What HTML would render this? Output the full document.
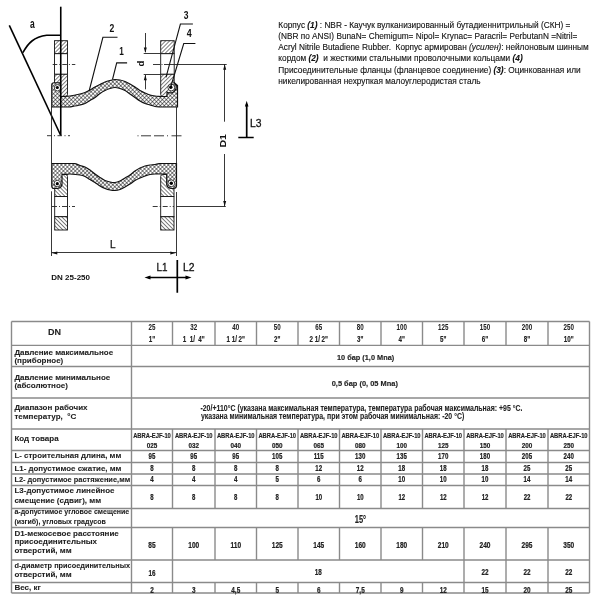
<!DOCTYPE html>
<html><head><meta charset="utf-8"><style>
html,body{margin:0;padding:0;background:#fff;width:600px;height:600px;overflow:hidden}
svg{position:absolute;left:0;top:0;will-change:transform}
text{font-family:"Liberation Sans",sans-serif}
</style></head><body>
<svg width="600" height="600" viewBox="0 0 600 600">
<defs>
<pattern id="xh" width="2.8" height="2.8" patternUnits="userSpaceOnUse" patternTransform="rotate(45)">
<rect width="2.8" height="2.8" fill="#fff"/>
<path d="M0,0H2.8M0,0V2.8" stroke="#000" stroke-width="0.95"/>
</pattern>
<pattern id="h1" width="2.8" height="2.8" patternUnits="userSpaceOnUse" patternTransform="rotate(-45)">
<rect width="2.8" height="2.8" fill="#fff"/>
<path d="M0,0H2.8" stroke="#000" stroke-width="1"/>
</pattern>
<pattern id="h2" width="2.8" height="2.8" patternUnits="userSpaceOnUse" patternTransform="rotate(45)">
<rect width="2.8" height="2.8" fill="#fff"/>
<path d="M0,0H2.8" stroke="#000" stroke-width="1"/>
</pattern>
</defs>
<g fill="none" stroke="#111" stroke-linecap="butt">
<!-- upper flanges -->
<g stroke-width="0.9">
<rect x="54.5" y="40.7" width="13" height="13" fill="url(#h1)"/>
<rect x="54.5" y="53.7" width="13" height="20.6" fill="#fff"/>
<path d="M54.5,74.3H67.5V94.5Q67.5,96.5 65.5,96.5H54.5Z" fill="url(#h1)"/>
<rect x="160.7" y="40.7" width="13.5" height="13" fill="url(#h1)"/>
<rect x="160.7" y="53.7" width="13.5" height="20.6" fill="#fff"/>
<path d="M160.7,74.3H174.2V96.5H162.7Q160.7,96.5 160.7,94.5Z" fill="url(#h1)"/>
</g>
<!-- lower flanges -->
<g stroke-width="0.9">
<path d="M54.7,196.5V174.5H65.5Q67.5,174.5 67.5,176.5V196.5Z" fill="url(#h2)"/>
<rect x="54.7" y="196.5" width="12.8" height="20.2" fill="#fff"/>
<rect x="54.7" y="216.7" width="12.8" height="13.3" fill="url(#h2)"/>
<path d="M160.7,196.5V176.5Q160.7,174.5 162.7,174.5H174V196.5Z" fill="url(#h2)"/>
<rect x="160.7" y="196.5" width="13.3" height="20.2" fill="#fff"/>
<rect x="160.7" y="216.7" width="13.3" height="13.3" fill="url(#h2)"/>
</g>
<!-- upper rubber -->
<path stroke-width="1.2" fill="url(#xh)" d="M51.75,107 V85 Q51.75,82.75 54,82.75 H60.5 V96.5 L62,96.5 C63.33,96.42 67.00,96.42 70.00,96.00 C73.00,95.58 77.50,94.58 80.00,94.00 C82.50,93.42 83.33,93.17 85.00,92.50 C86.67,91.83 88.33,90.92 90.00,90.00 C91.67,89.08 93.33,87.92 95.00,87.00 C96.67,86.08 98.33,85.33 100.00,84.50 C101.67,83.67 103.33,82.67 105.00,82.00 C106.67,81.33 108.33,80.92 110.00,80.50 C111.67,80.08 113.33,79.58 115.00,79.50 C116.67,79.42 118.33,79.67 120.00,80.00 C121.67,80.33 123.33,80.83 125.00,81.50 C126.67,82.17 128.33,83.08 130.00,84.00 C131.67,84.92 133.33,85.92 135.00,87.00 C136.67,88.08 138.33,89.50 140.00,90.50 C141.67,91.50 143.33,92.25 145.00,93.00 C146.67,93.75 148.33,94.50 150.00,95.00 C151.67,95.50 153.33,95.75 155.00,96.00 C156.67,96.25 159.17,96.42 160.00,96.50 H167 V92 A4.2,4.2 0 0 0 173.5,82 L177.5,85.5 V107 H160 C159.17,106.92 156.67,106.83 155.00,106.50 C153.33,106.17 151.67,105.50 150.00,105.00 C148.33,104.50 146.67,104.17 145.00,103.50 C143.33,102.83 141.67,102.00 140.00,101.00 C138.33,100.00 136.67,98.67 135.00,97.50 C133.33,96.33 131.67,95.17 130.00,94.00 C128.33,92.83 126.67,91.42 125.00,90.50 C123.33,89.58 121.67,89.00 120.00,88.50 C118.33,88.00 116.67,87.50 115.00,87.50 C113.33,87.50 111.67,88.00 110.00,88.50 C108.33,89.00 106.67,89.67 105.00,90.50 C103.33,91.33 101.67,92.33 100.00,93.50 C98.33,94.67 96.67,96.33 95.00,97.50 C93.33,98.67 91.67,99.50 90.00,100.50 C88.33,101.50 86.67,102.75 85.00,103.50 C83.33,104.25 82.50,104.42 80.00,105.00 C77.50,105.58 71.67,106.67 70.00,107.00 Z"/>
<!-- lower rubber -->
<path stroke-width="1.2" fill="url(#xh)" d="M51.75,163.5 H75 C75.83,163.83 78.33,164.92 80.00,165.50 C81.67,166.08 83.33,166.25 85.00,167.00 C86.67,167.75 88.33,168.83 90.00,170.00 C91.67,171.17 93.33,172.75 95.00,174.00 C96.67,175.25 98.33,176.42 100.00,177.50 C101.67,178.58 103.33,179.75 105.00,180.50 C106.67,181.25 108.33,181.67 110.00,182.00 C111.67,182.33 113.33,182.67 115.00,182.50 C116.67,182.33 118.33,181.75 120.00,181.00 C121.67,180.25 123.33,179.00 125.00,178.00 C126.67,177.00 128.33,176.17 130.00,175.00 C131.67,173.83 133.33,172.17 135.00,171.00 C136.67,169.83 138.33,168.83 140.00,168.00 C141.67,167.17 143.33,166.50 145.00,166.00 C146.67,165.50 148.33,165.25 150.00,165.00 C151.67,164.75 153.33,164.75 155.00,164.50 C156.67,164.25 159.17,163.67 160.00,163.50 H176.5 V185.5 Q176.5,188.5 173.5,188.5 H171 A4.6,4.6 0 0 1 166.7,183 V174 H160.7 C159.75,174.00 156.78,173.92 155.00,174.00 C153.22,174.08 151.67,174.17 150.00,174.50 C148.33,174.83 146.67,175.42 145.00,176.00 C143.33,176.58 141.67,177.25 140.00,178.00 C138.33,178.75 136.67,179.50 135.00,180.50 C133.33,181.50 131.67,182.92 130.00,184.00 C128.33,185.08 126.67,186.08 125.00,187.00 C123.33,187.92 121.67,188.92 120.00,189.50 C118.33,190.08 116.67,190.42 115.00,190.50 C113.33,190.58 111.67,190.33 110.00,190.00 C108.33,189.67 106.67,189.17 105.00,188.50 C103.33,187.83 101.67,187.00 100.00,186.00 C98.33,185.00 96.67,183.58 95.00,182.50 C93.33,181.42 91.67,180.50 90.00,179.50 C88.33,178.50 86.67,177.25 85.00,176.50 C83.33,175.75 82.50,175.42 80.00,175.00 C77.50,174.58 72.08,174.12 70.00,174.00 C67.92,173.88 67.92,174.25 67.50,174.30 H62 V183 A4.6,4.6 0 0 1 57.3,188.5 H54 Q51.75,188.5 51.75,186 Z"/>
<!-- beads -->
<g stroke-width="0.8" fill="#fff">
<circle cx="57.5" cy="87.8" r="3.2"/><circle cx="171.3" cy="87.5" r="3.4"/>
<circle cx="57.3" cy="183.5" r="3.2"/><circle cx="171.3" cy="183.3" r="3.4"/>
</g>
<g fill="#000" stroke="none">
<circle cx="57.3" cy="87.5" r="1.6"/><circle cx="170.8" cy="87.3" r="1.7"/>
<circle cx="57.3" cy="183.7" r="1.6"/><circle cx="171.3" cy="183.3" r="1.7"/>
</g>
<!-- thick lines: angle -->
<g stroke-width="1.6" stroke="#000">
<path d="M60.75,6.7V135.5"/>
<path d="M9.3,25.3L60.75,135.5"/>
<path d="M22.9,52.7C28,43 34,37 46.7,35.3H60.75"/>
</g>
<!-- thin extension lines -->
<g stroke-width="0.9" stroke="#222">
<path d="M51.5,107V163.5"/><path d="M176.5,107V163.5"/>
<path d="M51.5,191.3V256"/><path d="M176.5,192V256"/>
<path d="M51.5,252.5H176.5"/>
<path d="M143.7,53.5H160.7M143.7,74.5H160.7"/>
<path d="M145.5,33V52M145.5,75V89.3"/>
<path d="M174.2,64.5H226.7"/>
<path d="M224.5,64V121.7M224.5,154V206.7"/>
<path d="M176.5,206.5H225.8"/>
<path d="M153,64.5H174.2" stroke-dasharray="7 1.5 1 1.5 12"/>
<path d="M52.7,64.5H75.3" stroke-dasharray="4.6 2 1 2"/>
<path d="M47,135.7H70" stroke-dasharray="4.5 2.5 1 2.5"/>
<path d="M137.5,135.8H182" stroke-dasharray="1 2.5 10 3 10 3 1 3.5 10"/>
<path d="M52,206.5H75" stroke-dasharray="5 2 1 2"/>
<path d="M152.7,206.5H174" stroke-dasharray="5 2 1 2"/>
</g>
<!-- arrowheads -->
<g fill="#111" stroke="none">
<path d="M145.3,53L143.8,47.5H146.8Z"/>
<path d="M145.3,74.8L143.8,80.3H146.8Z"/>
<path d="M224.7,64.2L223.2,69.7H226.2Z"/>
<path d="M224.7,206.5L223.2,201H226.2Z"/>
<path d="M51.8,253L57.3,251.5V254.5Z"/>
<path d="M175.8,253L170.3,251.5V254.5Z"/>
</g>
<!-- leaders -->
<g stroke-width="1.1" stroke="#111">
<path d="M89,91.5L102.9,37.3H117.5"/>
<path d="M112.5,79.5L116.7,62.9H127.1"/>
<path d="M166,77.3L180.4,24H192.9"/>
<path d="M171,86L183.75,43.5H195.4"/>
</g>
<!-- L3 symbol -->
<g stroke="#000" stroke-width="1.7">
<path d="M246.7,104V137.5M238.3,137.5H253.7"/>
<path d="M177.3,260V292.7M148,277.5H188"/>
</g>
<g fill="#000" stroke="none">
<path d="M246.7,100.8L244.9,106.5H248.5Z"/>
<path d="M144.5,277.5L150.5,275.5V279.5Z"/>
<path d="M191.5,277.5L185.5,275.5V279.5Z"/>
</g>
</g>
<g font-family="Liberation Sans" fill="#111">
<text x="29.9" y="27.9" font-size="12.5" font-weight="bold" transform="translate(29.9 27.9) scale(0.68 1) translate(-29.9 -27.9)">a</text>
<text x="109.6" y="31.7" font-size="10.5" font-weight="bold" transform="translate(109.6 31.7) scale(0.82 1) translate(-109.6 -31.7)">2</text>
<text x="119.2" y="55.4" font-size="10" font-weight="bold" transform="translate(119.2 55.4) scale(0.82 1) translate(-119.2 -55.4)">1</text>
<text x="183.75" y="18.75" font-size="10" font-weight="bold" transform="translate(183.75 18.75) scale(0.85 1) translate(-183.75 -18.75)">3</text>
<text x="186.7" y="37.1" font-size="10.5" font-weight="bold" transform="translate(186.7 37.1) scale(0.85 1) translate(-186.7 -37.1)">4</text>
<text x="0" y="0" font-size="9.5" font-weight="bold" transform="translate(144.3 66.5) rotate(-90)">d</text>
<text x="0" y="0" font-size="9.5" font-weight="bold" textLength="13.5" lengthAdjust="spacingAndGlyphs" transform="translate(226.2 147.5) rotate(-90)">D1</text>
<text x="250" y="126.7" font-size="11.5" stroke="#111" stroke-width="0.3" transform="translate(250 0) scale(0.9 1) translate(-250 0)">L3</text>
<text x="156.5" y="271" font-size="11.5" stroke="#111" stroke-width="0.3" transform="translate(156.5 0) scale(0.86 1) translate(-156.5 0)">L1</text>
<text x="183" y="271" font-size="11.5" stroke="#111" stroke-width="0.3" transform="translate(183 0) scale(0.9 1) translate(-183 0)">L2</text>
<text x="110" y="247.5" font-size="10" stroke="#111" stroke-width="0.25">L</text>
<text x="51.25" y="280" font-size="8" font-weight="bold" textLength="38.75" lengthAdjust="spacingAndGlyphs">DN 25-250</text>
</g>
<g font-family="Liberation Sans" fill="#111" stroke="#111" stroke-width="0.12" font-size="8.9">
<text x="278.3" y="27.7" textLength="292.1" lengthAdjust="spacingAndGlyphs">Корпус <tspan font-weight="bold" font-style="italic">(1)</tspan> : NBR - Каучук вулканизированный бутадиеннитрильный (СКН) =</text>
<text x="278.3" y="38.7" textLength="299" lengthAdjust="spacingAndGlyphs">(NBR по ANSI) BunaN= Chemigum= Nipol= Krynac= Paracril= PerbutanN =Nitril=</text>
<text x="278.3" y="50" textLength="310.4" lengthAdjust="spacingAndGlyphs">Acryl Nitrile Butadiene Rubber.&#160; Корпус армирован <tspan font-style="italic">(усилен)</tspan>: нейлоновым шинным</text>
<text x="278.3" y="61.3" textLength="244.4" lengthAdjust="spacingAndGlyphs">кордом <tspan font-weight="bold" font-style="italic">(2)</tspan>&#160; и жесткими стальными проволочными кольцами <tspan font-weight="bold" font-style="italic">(4)</tspan></text>
<text x="278.3" y="72.7" textLength="302.4" lengthAdjust="spacingAndGlyphs">Присоединительные фланцы (фланцевое соединение) <tspan font-weight="bold" font-style="italic">(3)</tspan>: Оцинкованная или</text>
<text x="278.3" y="84" textLength="202.4" lengthAdjust="spacingAndGlyphs">никелированная нехрупкая малоуглеродистая сталь</text>
</g>

<g>
<line x1="11.5" y1="321.5" x2="589.5" y2="321.5" stroke="#8a8a8a" stroke-width="1.4"/><line x1="11.5" y1="345.4" x2="589.5" y2="345.4" stroke="#8a8a8a" stroke-width="1.4"/><line x1="11.5" y1="366.5" x2="589.5" y2="366.5" stroke="#8a8a8a" stroke-width="1.4"/><line x1="11.5" y1="398" x2="589.5" y2="398" stroke="#8a8a8a" stroke-width="1.4"/><line x1="11.5" y1="429" x2="589.5" y2="429" stroke="#8a8a8a" stroke-width="1.4"/><line x1="11.5" y1="450.5" x2="589.5" y2="450.5" stroke="#8a8a8a" stroke-width="1.4"/><line x1="11.5" y1="462.5" x2="589.5" y2="462.5" stroke="#8a8a8a" stroke-width="1.4"/><line x1="11.5" y1="474" x2="589.5" y2="474" stroke="#8a8a8a" stroke-width="1.4"/><line x1="11.5" y1="485.5" x2="589.5" y2="485.5" stroke="#8a8a8a" stroke-width="1.4"/><line x1="11.5" y1="508.5" x2="589.5" y2="508.5" stroke="#8a8a8a" stroke-width="1.4"/><line x1="11.5" y1="527.5" x2="589.5" y2="527.5" stroke="#8a8a8a" stroke-width="1.4"/><line x1="11.5" y1="560" x2="589.5" y2="560" stroke="#8a8a8a" stroke-width="1.4"/><line x1="11.5" y1="582.5" x2="589.5" y2="582.5" stroke="#8a8a8a" stroke-width="1.4"/><line x1="11.5" y1="593" x2="589.5" y2="593" stroke="#8a8a8a" stroke-width="1.4"/><line x1="11.5" y1="321.5" x2="11.5" y2="593" stroke="#8a8a8a" stroke-width="1.4"/><line x1="589.5" y1="321.5" x2="589.5" y2="593" stroke="#8a8a8a" stroke-width="1.4"/><line x1="131.5" y1="321.5" x2="131.5" y2="593" stroke="#8a8a8a" stroke-width="1.4"/><line x1="172.5" y1="321.5" x2="172.5" y2="345.4" stroke="#8a8a8a" stroke-width="1.4"/><line x1="215" y1="321.5" x2="215" y2="345.4" stroke="#8a8a8a" stroke-width="1.4"/><line x1="256.5" y1="321.5" x2="256.5" y2="345.4" stroke="#8a8a8a" stroke-width="1.4"/><line x1="298" y1="321.5" x2="298" y2="345.4" stroke="#8a8a8a" stroke-width="1.4"/><line x1="339.5" y1="321.5" x2="339.5" y2="345.4" stroke="#8a8a8a" stroke-width="1.4"/><line x1="381" y1="321.5" x2="381" y2="345.4" stroke="#8a8a8a" stroke-width="1.4"/><line x1="422.5" y1="321.5" x2="422.5" y2="345.4" stroke="#8a8a8a" stroke-width="1.4"/><line x1="464" y1="321.5" x2="464" y2="345.4" stroke="#8a8a8a" stroke-width="1.4"/><line x1="506" y1="321.5" x2="506" y2="345.4" stroke="#8a8a8a" stroke-width="1.4"/><line x1="548" y1="321.5" x2="548" y2="345.4" stroke="#8a8a8a" stroke-width="1.4"/><line x1="172.5" y1="429" x2="172.5" y2="450.5" stroke="#8a8a8a" stroke-width="1.4"/><line x1="215" y1="429" x2="215" y2="450.5" stroke="#8a8a8a" stroke-width="1.4"/><line x1="256.5" y1="429" x2="256.5" y2="450.5" stroke="#8a8a8a" stroke-width="1.4"/><line x1="298" y1="429" x2="298" y2="450.5" stroke="#8a8a8a" stroke-width="1.4"/><line x1="339.5" y1="429" x2="339.5" y2="450.5" stroke="#8a8a8a" stroke-width="1.4"/><line x1="381" y1="429" x2="381" y2="450.5" stroke="#8a8a8a" stroke-width="1.4"/><line x1="422.5" y1="429" x2="422.5" y2="450.5" stroke="#8a8a8a" stroke-width="1.4"/><line x1="464" y1="429" x2="464" y2="450.5" stroke="#8a8a8a" stroke-width="1.4"/><line x1="506" y1="429" x2="506" y2="450.5" stroke="#8a8a8a" stroke-width="1.4"/><line x1="548" y1="429" x2="548" y2="450.5" stroke="#8a8a8a" stroke-width="1.4"/><line x1="172.5" y1="450.5" x2="172.5" y2="462.5" stroke="#8a8a8a" stroke-width="1.4"/><line x1="215" y1="450.5" x2="215" y2="462.5" stroke="#8a8a8a" stroke-width="1.4"/><line x1="256.5" y1="450.5" x2="256.5" y2="462.5" stroke="#8a8a8a" stroke-width="1.4"/><line x1="298" y1="450.5" x2="298" y2="462.5" stroke="#8a8a8a" stroke-width="1.4"/><line x1="339.5" y1="450.5" x2="339.5" y2="462.5" stroke="#8a8a8a" stroke-width="1.4"/><line x1="381" y1="450.5" x2="381" y2="462.5" stroke="#8a8a8a" stroke-width="1.4"/><line x1="422.5" y1="450.5" x2="422.5" y2="462.5" stroke="#8a8a8a" stroke-width="1.4"/><line x1="464" y1="450.5" x2="464" y2="462.5" stroke="#8a8a8a" stroke-width="1.4"/><line x1="506" y1="450.5" x2="506" y2="462.5" stroke="#8a8a8a" stroke-width="1.4"/><line x1="548" y1="450.5" x2="548" y2="462.5" stroke="#8a8a8a" stroke-width="1.4"/><line x1="172.5" y1="462.5" x2="172.5" y2="474" stroke="#8a8a8a" stroke-width="1.4"/><line x1="215" y1="462.5" x2="215" y2="474" stroke="#8a8a8a" stroke-width="1.4"/><line x1="256.5" y1="462.5" x2="256.5" y2="474" stroke="#8a8a8a" stroke-width="1.4"/><line x1="298" y1="462.5" x2="298" y2="474" stroke="#8a8a8a" stroke-width="1.4"/><line x1="339.5" y1="462.5" x2="339.5" y2="474" stroke="#8a8a8a" stroke-width="1.4"/><line x1="381" y1="462.5" x2="381" y2="474" stroke="#8a8a8a" stroke-width="1.4"/><line x1="422.5" y1="462.5" x2="422.5" y2="474" stroke="#8a8a8a" stroke-width="1.4"/><line x1="464" y1="462.5" x2="464" y2="474" stroke="#8a8a8a" stroke-width="1.4"/><line x1="506" y1="462.5" x2="506" y2="474" stroke="#8a8a8a" stroke-width="1.4"/><line x1="548" y1="462.5" x2="548" y2="474" stroke="#8a8a8a" stroke-width="1.4"/><line x1="172.5" y1="474" x2="172.5" y2="485.5" stroke="#8a8a8a" stroke-width="1.4"/><line x1="215" y1="474" x2="215" y2="485.5" stroke="#8a8a8a" stroke-width="1.4"/><line x1="256.5" y1="474" x2="256.5" y2="485.5" stroke="#8a8a8a" stroke-width="1.4"/><line x1="298" y1="474" x2="298" y2="485.5" stroke="#8a8a8a" stroke-width="1.4"/><line x1="339.5" y1="474" x2="339.5" y2="485.5" stroke="#8a8a8a" stroke-width="1.4"/><line x1="381" y1="474" x2="381" y2="485.5" stroke="#8a8a8a" stroke-width="1.4"/><line x1="422.5" y1="474" x2="422.5" y2="485.5" stroke="#8a8a8a" stroke-width="1.4"/><line x1="464" y1="474" x2="464" y2="485.5" stroke="#8a8a8a" stroke-width="1.4"/><line x1="506" y1="474" x2="506" y2="485.5" stroke="#8a8a8a" stroke-width="1.4"/><line x1="548" y1="474" x2="548" y2="485.5" stroke="#8a8a8a" stroke-width="1.4"/><line x1="172.5" y1="485.5" x2="172.5" y2="508.5" stroke="#8a8a8a" stroke-width="1.4"/><line x1="215" y1="485.5" x2="215" y2="508.5" stroke="#8a8a8a" stroke-width="1.4"/><line x1="256.5" y1="485.5" x2="256.5" y2="508.5" stroke="#8a8a8a" stroke-width="1.4"/><line x1="298" y1="485.5" x2="298" y2="508.5" stroke="#8a8a8a" stroke-width="1.4"/><line x1="339.5" y1="485.5" x2="339.5" y2="508.5" stroke="#8a8a8a" stroke-width="1.4"/><line x1="381" y1="485.5" x2="381" y2="508.5" stroke="#8a8a8a" stroke-width="1.4"/><line x1="422.5" y1="485.5" x2="422.5" y2="508.5" stroke="#8a8a8a" stroke-width="1.4"/><line x1="464" y1="485.5" x2="464" y2="508.5" stroke="#8a8a8a" stroke-width="1.4"/><line x1="506" y1="485.5" x2="506" y2="508.5" stroke="#8a8a8a" stroke-width="1.4"/><line x1="548" y1="485.5" x2="548" y2="508.5" stroke="#8a8a8a" stroke-width="1.4"/><line x1="172.5" y1="527.5" x2="172.5" y2="560" stroke="#8a8a8a" stroke-width="1.4"/><line x1="215" y1="527.5" x2="215" y2="560" stroke="#8a8a8a" stroke-width="1.4"/><line x1="256.5" y1="527.5" x2="256.5" y2="560" stroke="#8a8a8a" stroke-width="1.4"/><line x1="298" y1="527.5" x2="298" y2="560" stroke="#8a8a8a" stroke-width="1.4"/><line x1="339.5" y1="527.5" x2="339.5" y2="560" stroke="#8a8a8a" stroke-width="1.4"/><line x1="381" y1="527.5" x2="381" y2="560" stroke="#8a8a8a" stroke-width="1.4"/><line x1="422.5" y1="527.5" x2="422.5" y2="560" stroke="#8a8a8a" stroke-width="1.4"/><line x1="464" y1="527.5" x2="464" y2="560" stroke="#8a8a8a" stroke-width="1.4"/><line x1="506" y1="527.5" x2="506" y2="560" stroke="#8a8a8a" stroke-width="1.4"/><line x1="548" y1="527.5" x2="548" y2="560" stroke="#8a8a8a" stroke-width="1.4"/><line x1="172.5" y1="560" x2="172.5" y2="582.5" stroke="#8a8a8a" stroke-width="1.4"/><line x1="464" y1="560" x2="464" y2="582.5" stroke="#8a8a8a" stroke-width="1.4"/><line x1="506" y1="560" x2="506" y2="582.5" stroke="#8a8a8a" stroke-width="1.4"/><line x1="548" y1="560" x2="548" y2="582.5" stroke="#8a8a8a" stroke-width="1.4"/><line x1="172.5" y1="582.5" x2="172.5" y2="593" stroke="#8a8a8a" stroke-width="1.4"/><line x1="215" y1="582.5" x2="215" y2="593" stroke="#8a8a8a" stroke-width="1.4"/><line x1="256.5" y1="582.5" x2="256.5" y2="593" stroke="#8a8a8a" stroke-width="1.4"/><line x1="298" y1="582.5" x2="298" y2="593" stroke="#8a8a8a" stroke-width="1.4"/><line x1="339.5" y1="582.5" x2="339.5" y2="593" stroke="#8a8a8a" stroke-width="1.4"/><line x1="381" y1="582.5" x2="381" y2="593" stroke="#8a8a8a" stroke-width="1.4"/><line x1="422.5" y1="582.5" x2="422.5" y2="593" stroke="#8a8a8a" stroke-width="1.4"/><line x1="464" y1="582.5" x2="464" y2="593" stroke="#8a8a8a" stroke-width="1.4"/><line x1="506" y1="582.5" x2="506" y2="593" stroke="#8a8a8a" stroke-width="1.4"/><line x1="548" y1="582.5" x2="548" y2="593" stroke="#8a8a8a" stroke-width="1.4"/>
</g>
<text x="48" y="335.4" font-size="9" font-weight="bold" text-anchor="start" fill="#222" stroke="#222" stroke-width="0.08">DN</text><text x="152.0" y="330" font-size="8.2" font-weight="bold" text-anchor="middle" fill="#222" stroke="#222" stroke-width="0.05" transform="translate(152.0 330) scale(0.76 1) translate(-152.0 -330)">25</text><text x="152.0" y="341.6" font-size="8.2" font-weight="bold" text-anchor="middle" fill="#222" stroke="#222" stroke-width="0.15" transform="translate(152.0 341.6) scale(0.76 1) translate(-152.0 -341.6)">1"</text><text x="193.75" y="330" font-size="8.2" font-weight="bold" text-anchor="middle" fill="#222" stroke="#222" stroke-width="0.05" transform="translate(193.75 330) scale(0.76 1) translate(-193.75 -330)">32</text><text x="193.75" y="341.6" font-size="8.2" font-weight="bold" text-anchor="middle" fill="#222" stroke="#222" stroke-width="0.15" transform="translate(193.75 341.6) scale(0.76 1) translate(-193.75 -341.6)">1&#160;&#160;1/&#160;&#160;4"</text><text x="235.75" y="330" font-size="8.2" font-weight="bold" text-anchor="middle" fill="#222" stroke="#222" stroke-width="0.05" transform="translate(235.75 330) scale(0.76 1) translate(-235.75 -330)">40</text><text x="235.75" y="341.6" font-size="8.2" font-weight="bold" text-anchor="middle" fill="#222" stroke="#222" stroke-width="0.15" transform="translate(235.75 341.6) scale(0.76 1) translate(-235.75 -341.6)">1 1/ 2"</text><text x="277.25" y="330" font-size="8.2" font-weight="bold" text-anchor="middle" fill="#222" stroke="#222" stroke-width="0.05" transform="translate(277.25 330) scale(0.76 1) translate(-277.25 -330)">50</text><text x="277.25" y="341.6" font-size="8.2" font-weight="bold" text-anchor="middle" fill="#222" stroke="#222" stroke-width="0.15" transform="translate(277.25 341.6) scale(0.76 1) translate(-277.25 -341.6)">2"</text><text x="318.75" y="330" font-size="8.2" font-weight="bold" text-anchor="middle" fill="#222" stroke="#222" stroke-width="0.05" transform="translate(318.75 330) scale(0.76 1) translate(-318.75 -330)">65</text><text x="318.75" y="341.6" font-size="8.2" font-weight="bold" text-anchor="middle" fill="#222" stroke="#222" stroke-width="0.15" transform="translate(318.75 341.6) scale(0.76 1) translate(-318.75 -341.6)">2 1/ 2"</text><text x="360.25" y="330" font-size="8.2" font-weight="bold" text-anchor="middle" fill="#222" stroke="#222" stroke-width="0.05" transform="translate(360.25 330) scale(0.76 1) translate(-360.25 -330)">80</text><text x="360.25" y="341.6" font-size="8.2" font-weight="bold" text-anchor="middle" fill="#222" stroke="#222" stroke-width="0.15" transform="translate(360.25 341.6) scale(0.76 1) translate(-360.25 -341.6)">3"</text><text x="401.75" y="330" font-size="8.2" font-weight="bold" text-anchor="middle" fill="#222" stroke="#222" stroke-width="0.05" transform="translate(401.75 330) scale(0.76 1) translate(-401.75 -330)">100</text><text x="401.75" y="341.6" font-size="8.2" font-weight="bold" text-anchor="middle" fill="#222" stroke="#222" stroke-width="0.15" transform="translate(401.75 341.6) scale(0.76 1) translate(-401.75 -341.6)">4"</text><text x="443.25" y="330" font-size="8.2" font-weight="bold" text-anchor="middle" fill="#222" stroke="#222" stroke-width="0.05" transform="translate(443.25 330) scale(0.76 1) translate(-443.25 -330)">125</text><text x="443.25" y="341.6" font-size="8.2" font-weight="bold" text-anchor="middle" fill="#222" stroke="#222" stroke-width="0.15" transform="translate(443.25 341.6) scale(0.76 1) translate(-443.25 -341.6)">5"</text><text x="485.0" y="330" font-size="8.2" font-weight="bold" text-anchor="middle" fill="#222" stroke="#222" stroke-width="0.05" transform="translate(485.0 330) scale(0.76 1) translate(-485.0 -330)">150</text><text x="485.0" y="341.6" font-size="8.2" font-weight="bold" text-anchor="middle" fill="#222" stroke="#222" stroke-width="0.15" transform="translate(485.0 341.6) scale(0.76 1) translate(-485.0 -341.6)">6"</text><text x="527.0" y="330" font-size="8.2" font-weight="bold" text-anchor="middle" fill="#222" stroke="#222" stroke-width="0.05" transform="translate(527.0 330) scale(0.76 1) translate(-527.0 -330)">200</text><text x="527.0" y="341.6" font-size="8.2" font-weight="bold" text-anchor="middle" fill="#222" stroke="#222" stroke-width="0.15" transform="translate(527.0 341.6) scale(0.76 1) translate(-527.0 -341.6)">8"</text><text x="568.75" y="330" font-size="8.2" font-weight="bold" text-anchor="middle" fill="#222" stroke="#222" stroke-width="0.05" transform="translate(568.75 330) scale(0.76 1) translate(-568.75 -330)">250</text><text x="568.75" y="341.6" font-size="8.2" font-weight="bold" text-anchor="middle" fill="#222" stroke="#222" stroke-width="0.15" transform="translate(568.75 341.6) scale(0.76 1) translate(-568.75 -341.6)">10"</text><text x="14.4" y="355" font-size="8" font-weight="bold" text-anchor="start" fill="#222" stroke="#222" stroke-width="0.08">Давление максимальное</text><text x="14.4" y="363" font-size="8" font-weight="bold" text-anchor="start" fill="#222" stroke="#222" stroke-width="0.08">(приборное)</text><text x="365.6" y="359.6" font-size="8" font-weight="bold" text-anchor="middle" fill="#222" stroke="#222" stroke-width="0.15" transform="translate(365.6 359.6) scale(0.92 1) translate(-365.6 -359.6)">10 бар (1,0 Mna)</text><text x="14.4" y="380" font-size="8" font-weight="bold" text-anchor="start" fill="#222" stroke="#222" stroke-width="0.08">Давление минимальное</text><text x="14.4" y="387.6" font-size="8" font-weight="bold" text-anchor="start" fill="#222" stroke="#222" stroke-width="0.08">(абсолютное)</text><text x="364.8" y="385.7" font-size="8" font-weight="bold" text-anchor="middle" fill="#222" stroke="#222" stroke-width="0.15" transform="translate(364.8 385.7) scale(0.93 1) translate(-364.8 -385.7)">0,5 бар (0, 05 Mna)</text><text x="14.4" y="409.8" font-size="8" font-weight="bold" text-anchor="start" fill="#222" stroke="#222" stroke-width="0.08">Диапазон рабочих</text><text x="14.4" y="418.5" font-size="8" font-weight="bold" text-anchor="start" fill="#222" stroke="#222" stroke-width="0.08">температур,&#160;&#160;°С</text><text x="200.4" y="411" font-size="8.2" font-weight="bold" text-anchor="start" fill="#222" stroke="#222" stroke-width="0.08" transform="translate(200.4 411) scale(0.85 1) translate(-200.4 -411)">-20/+110°C (указана максимальная температура, температура рабочая максимальная: +95 °С.</text><text x="201" y="419.4" font-size="8.2" font-weight="bold" text-anchor="start" fill="#222" stroke="#222" stroke-width="0.08" transform="translate(201 419.4) scale(0.85 1) translate(-201 -419.4)">указана минимальная температура, при этом рабочая минимальная: -20 °С)</text><text x="14.4" y="441.4" font-size="8" font-weight="bold" text-anchor="start" fill="#222" stroke="#222" stroke-width="0.08">Код товара</text><text x="152.0" y="438.2" font-size="7" font-weight="bold" text-anchor="middle" fill="#222" stroke="#222" stroke-width="0.15" transform="translate(152.0 438.2) scale(0.83 1) translate(-152.0 -438.2)">ABRA-EJF-10</text><text x="152.0" y="448.1" font-size="8.1" font-weight="bold" text-anchor="middle" fill="#222" stroke="#222" stroke-width="0.22" transform="translate(152.0 448.1) scale(0.78 1) translate(-152.0 -448.1)">025</text><text x="193.75" y="438.2" font-size="7" font-weight="bold" text-anchor="middle" fill="#222" stroke="#222" stroke-width="0.15" transform="translate(193.75 438.2) scale(0.83 1) translate(-193.75 -438.2)">ABRA-EJF-10</text><text x="193.75" y="448.1" font-size="8.1" font-weight="bold" text-anchor="middle" fill="#222" stroke="#222" stroke-width="0.22" transform="translate(193.75 448.1) scale(0.78 1) translate(-193.75 -448.1)">032</text><text x="235.75" y="438.2" font-size="7" font-weight="bold" text-anchor="middle" fill="#222" stroke="#222" stroke-width="0.15" transform="translate(235.75 438.2) scale(0.83 1) translate(-235.75 -438.2)">ABRA-EJF-10</text><text x="235.75" y="448.1" font-size="8.1" font-weight="bold" text-anchor="middle" fill="#222" stroke="#222" stroke-width="0.22" transform="translate(235.75 448.1) scale(0.78 1) translate(-235.75 -448.1)">040</text><text x="277.25" y="438.2" font-size="7" font-weight="bold" text-anchor="middle" fill="#222" stroke="#222" stroke-width="0.15" transform="translate(277.25 438.2) scale(0.83 1) translate(-277.25 -438.2)">ABRA-EJF-10</text><text x="277.25" y="448.1" font-size="8.1" font-weight="bold" text-anchor="middle" fill="#222" stroke="#222" stroke-width="0.22" transform="translate(277.25 448.1) scale(0.78 1) translate(-277.25 -448.1)">050</text><text x="318.75" y="438.2" font-size="7" font-weight="bold" text-anchor="middle" fill="#222" stroke="#222" stroke-width="0.15" transform="translate(318.75 438.2) scale(0.83 1) translate(-318.75 -438.2)">ABRA-EJF-10</text><text x="318.75" y="448.1" font-size="8.1" font-weight="bold" text-anchor="middle" fill="#222" stroke="#222" stroke-width="0.22" transform="translate(318.75 448.1) scale(0.78 1) translate(-318.75 -448.1)">065</text><text x="360.25" y="438.2" font-size="7" font-weight="bold" text-anchor="middle" fill="#222" stroke="#222" stroke-width="0.15" transform="translate(360.25 438.2) scale(0.83 1) translate(-360.25 -438.2)">ABRA-EJF-10</text><text x="360.25" y="448.1" font-size="8.1" font-weight="bold" text-anchor="middle" fill="#222" stroke="#222" stroke-width="0.22" transform="translate(360.25 448.1) scale(0.78 1) translate(-360.25 -448.1)">080</text><text x="401.75" y="438.2" font-size="7" font-weight="bold" text-anchor="middle" fill="#222" stroke="#222" stroke-width="0.15" transform="translate(401.75 438.2) scale(0.83 1) translate(-401.75 -438.2)">ABRA-EJF-10</text><text x="401.75" y="448.1" font-size="8.1" font-weight="bold" text-anchor="middle" fill="#222" stroke="#222" stroke-width="0.22" transform="translate(401.75 448.1) scale(0.78 1) translate(-401.75 -448.1)">100</text><text x="443.25" y="438.2" font-size="7" font-weight="bold" text-anchor="middle" fill="#222" stroke="#222" stroke-width="0.15" transform="translate(443.25 438.2) scale(0.83 1) translate(-443.25 -438.2)">ABRA-EJF-10</text><text x="443.25" y="448.1" font-size="8.1" font-weight="bold" text-anchor="middle" fill="#222" stroke="#222" stroke-width="0.22" transform="translate(443.25 448.1) scale(0.78 1) translate(-443.25 -448.1)">125</text><text x="485.0" y="438.2" font-size="7" font-weight="bold" text-anchor="middle" fill="#222" stroke="#222" stroke-width="0.15" transform="translate(485.0 438.2) scale(0.83 1) translate(-485.0 -438.2)">ABRA-EJF-10</text><text x="485.0" y="448.1" font-size="8.1" font-weight="bold" text-anchor="middle" fill="#222" stroke="#222" stroke-width="0.22" transform="translate(485.0 448.1) scale(0.78 1) translate(-485.0 -448.1)">150</text><text x="527.0" y="438.2" font-size="7" font-weight="bold" text-anchor="middle" fill="#222" stroke="#222" stroke-width="0.15" transform="translate(527.0 438.2) scale(0.83 1) translate(-527.0 -438.2)">ABRA-EJF-10</text><text x="527.0" y="448.1" font-size="8.1" font-weight="bold" text-anchor="middle" fill="#222" stroke="#222" stroke-width="0.22" transform="translate(527.0 448.1) scale(0.78 1) translate(-527.0 -448.1)">200</text><text x="568.75" y="438.2" font-size="7" font-weight="bold" text-anchor="middle" fill="#222" stroke="#222" stroke-width="0.15" transform="translate(568.75 438.2) scale(0.83 1) translate(-568.75 -438.2)">ABRA-EJF-10</text><text x="568.75" y="448.1" font-size="8.1" font-weight="bold" text-anchor="middle" fill="#222" stroke="#222" stroke-width="0.22" transform="translate(568.75 448.1) scale(0.78 1) translate(-568.75 -448.1)">250</text><text x="14.4" y="458" font-size="8" font-weight="bold" text-anchor="start" fill="#222" stroke="#222" stroke-width="0.08" transform="translate(14.4 458) scale(0.99 1) translate(-14.4 -458)">L- строительная длина, мм</text><text x="152.0" y="459" font-size="8.3" font-weight="bold" text-anchor="middle" fill="#222" stroke="#222" stroke-width="0.22" transform="translate(152.0 459) scale(0.74 1) translate(-152.0 -459)">95</text><text x="193.75" y="459" font-size="8.3" font-weight="bold" text-anchor="middle" fill="#222" stroke="#222" stroke-width="0.22" transform="translate(193.75 459) scale(0.74 1) translate(-193.75 -459)">95</text><text x="235.75" y="459" font-size="8.3" font-weight="bold" text-anchor="middle" fill="#222" stroke="#222" stroke-width="0.22" transform="translate(235.75 459) scale(0.74 1) translate(-235.75 -459)">95</text><text x="277.25" y="459" font-size="8.3" font-weight="bold" text-anchor="middle" fill="#222" stroke="#222" stroke-width="0.22" transform="translate(277.25 459) scale(0.74 1) translate(-277.25 -459)">105</text><text x="318.75" y="459" font-size="8.3" font-weight="bold" text-anchor="middle" fill="#222" stroke="#222" stroke-width="0.22" transform="translate(318.75 459) scale(0.74 1) translate(-318.75 -459)">115</text><text x="360.25" y="459" font-size="8.3" font-weight="bold" text-anchor="middle" fill="#222" stroke="#222" stroke-width="0.22" transform="translate(360.25 459) scale(0.74 1) translate(-360.25 -459)">130</text><text x="401.75" y="459" font-size="8.3" font-weight="bold" text-anchor="middle" fill="#222" stroke="#222" stroke-width="0.22" transform="translate(401.75 459) scale(0.74 1) translate(-401.75 -459)">135</text><text x="443.25" y="459" font-size="8.3" font-weight="bold" text-anchor="middle" fill="#222" stroke="#222" stroke-width="0.22" transform="translate(443.25 459) scale(0.74 1) translate(-443.25 -459)">170</text><text x="485.0" y="459" font-size="8.3" font-weight="bold" text-anchor="middle" fill="#222" stroke="#222" stroke-width="0.22" transform="translate(485.0 459) scale(0.74 1) translate(-485.0 -459)">180</text><text x="527.0" y="459" font-size="8.3" font-weight="bold" text-anchor="middle" fill="#222" stroke="#222" stroke-width="0.22" transform="translate(527.0 459) scale(0.74 1) translate(-527.0 -459)">205</text><text x="568.75" y="459" font-size="8.3" font-weight="bold" text-anchor="middle" fill="#222" stroke="#222" stroke-width="0.22" transform="translate(568.75 459) scale(0.74 1) translate(-568.75 -459)">240</text><text x="14.4" y="470.6" font-size="8" font-weight="bold" text-anchor="start" fill="#222" stroke="#222" stroke-width="0.08" transform="translate(14.4 470.6) scale(0.99 1) translate(-14.4 -470.6)">L1- допустимое сжатие, мм</text><text x="152.0" y="470.6" font-size="8.3" font-weight="bold" text-anchor="middle" fill="#222" stroke="#222" stroke-width="0.22" transform="translate(152.0 470.6) scale(0.74 1) translate(-152.0 -470.6)">8</text><text x="193.75" y="470.6" font-size="8.3" font-weight="bold" text-anchor="middle" fill="#222" stroke="#222" stroke-width="0.22" transform="translate(193.75 470.6) scale(0.74 1) translate(-193.75 -470.6)">8</text><text x="235.75" y="470.6" font-size="8.3" font-weight="bold" text-anchor="middle" fill="#222" stroke="#222" stroke-width="0.22" transform="translate(235.75 470.6) scale(0.74 1) translate(-235.75 -470.6)">8</text><text x="277.25" y="470.6" font-size="8.3" font-weight="bold" text-anchor="middle" fill="#222" stroke="#222" stroke-width="0.22" transform="translate(277.25 470.6) scale(0.74 1) translate(-277.25 -470.6)">8</text><text x="318.75" y="470.6" font-size="8.3" font-weight="bold" text-anchor="middle" fill="#222" stroke="#222" stroke-width="0.22" transform="translate(318.75 470.6) scale(0.74 1) translate(-318.75 -470.6)">12</text><text x="360.25" y="470.6" font-size="8.3" font-weight="bold" text-anchor="middle" fill="#222" stroke="#222" stroke-width="0.22" transform="translate(360.25 470.6) scale(0.74 1) translate(-360.25 -470.6)">12</text><text x="401.75" y="470.6" font-size="8.3" font-weight="bold" text-anchor="middle" fill="#222" stroke="#222" stroke-width="0.22" transform="translate(401.75 470.6) scale(0.74 1) translate(-401.75 -470.6)">18</text><text x="443.25" y="470.6" font-size="8.3" font-weight="bold" text-anchor="middle" fill="#222" stroke="#222" stroke-width="0.22" transform="translate(443.25 470.6) scale(0.74 1) translate(-443.25 -470.6)">18</text><text x="485.0" y="470.6" font-size="8.3" font-weight="bold" text-anchor="middle" fill="#222" stroke="#222" stroke-width="0.22" transform="translate(485.0 470.6) scale(0.74 1) translate(-485.0 -470.6)">18</text><text x="527.0" y="470.6" font-size="8.3" font-weight="bold" text-anchor="middle" fill="#222" stroke="#222" stroke-width="0.22" transform="translate(527.0 470.6) scale(0.74 1) translate(-527.0 -470.6)">25</text><text x="568.75" y="470.6" font-size="8.3" font-weight="bold" text-anchor="middle" fill="#222" stroke="#222" stroke-width="0.22" transform="translate(568.75 470.6) scale(0.74 1) translate(-568.75 -470.6)">25</text><text x="14.4" y="482" font-size="8" font-weight="bold" text-anchor="start" fill="#222" stroke="#222" stroke-width="0.08" transform="translate(14.4 482) scale(0.93 1) translate(-14.4 -482)">L2- допустимое растяжение,мм</text><text x="152.0" y="482" font-size="8.3" font-weight="bold" text-anchor="middle" fill="#222" stroke="#222" stroke-width="0.22" transform="translate(152.0 482) scale(0.74 1) translate(-152.0 -482)">4</text><text x="193.75" y="482" font-size="8.3" font-weight="bold" text-anchor="middle" fill="#222" stroke="#222" stroke-width="0.22" transform="translate(193.75 482) scale(0.74 1) translate(-193.75 -482)">4</text><text x="235.75" y="482" font-size="8.3" font-weight="bold" text-anchor="middle" fill="#222" stroke="#222" stroke-width="0.22" transform="translate(235.75 482) scale(0.74 1) translate(-235.75 -482)">4</text><text x="277.25" y="482" font-size="8.3" font-weight="bold" text-anchor="middle" fill="#222" stroke="#222" stroke-width="0.22" transform="translate(277.25 482) scale(0.74 1) translate(-277.25 -482)">5</text><text x="318.75" y="482" font-size="8.3" font-weight="bold" text-anchor="middle" fill="#222" stroke="#222" stroke-width="0.22" transform="translate(318.75 482) scale(0.74 1) translate(-318.75 -482)">6</text><text x="360.25" y="482" font-size="8.3" font-weight="bold" text-anchor="middle" fill="#222" stroke="#222" stroke-width="0.22" transform="translate(360.25 482) scale(0.74 1) translate(-360.25 -482)">6</text><text x="401.75" y="482" font-size="8.3" font-weight="bold" text-anchor="middle" fill="#222" stroke="#222" stroke-width="0.22" transform="translate(401.75 482) scale(0.74 1) translate(-401.75 -482)">10</text><text x="443.25" y="482" font-size="8.3" font-weight="bold" text-anchor="middle" fill="#222" stroke="#222" stroke-width="0.22" transform="translate(443.25 482) scale(0.74 1) translate(-443.25 -482)">10</text><text x="485.0" y="482" font-size="8.3" font-weight="bold" text-anchor="middle" fill="#222" stroke="#222" stroke-width="0.22" transform="translate(485.0 482) scale(0.74 1) translate(-485.0 -482)">10</text><text x="527.0" y="482" font-size="8.3" font-weight="bold" text-anchor="middle" fill="#222" stroke="#222" stroke-width="0.22" transform="translate(527.0 482) scale(0.74 1) translate(-527.0 -482)">14</text><text x="568.75" y="482" font-size="8.3" font-weight="bold" text-anchor="middle" fill="#222" stroke="#222" stroke-width="0.22" transform="translate(568.75 482) scale(0.74 1) translate(-568.75 -482)">14</text><text x="14.4" y="493" font-size="8" font-weight="bold" text-anchor="start" fill="#222" stroke="#222" stroke-width="0.08">L3-допустимое линейное</text><text x="14.4" y="502.6" font-size="8" font-weight="bold" text-anchor="start" fill="#222" stroke="#222" stroke-width="0.08">смещение (сдвиг), мм</text><text x="152.0" y="500" font-size="8.4" font-weight="bold" text-anchor="middle" fill="#222" stroke="#222" stroke-width="0.22" transform="translate(152.0 500) scale(0.72 1) translate(-152.0 -500)">8</text><text x="193.75" y="500" font-size="8.4" font-weight="bold" text-anchor="middle" fill="#222" stroke="#222" stroke-width="0.22" transform="translate(193.75 500) scale(0.72 1) translate(-193.75 -500)">8</text><text x="235.75" y="500" font-size="8.4" font-weight="bold" text-anchor="middle" fill="#222" stroke="#222" stroke-width="0.22" transform="translate(235.75 500) scale(0.72 1) translate(-235.75 -500)">8</text><text x="277.25" y="500" font-size="8.4" font-weight="bold" text-anchor="middle" fill="#222" stroke="#222" stroke-width="0.22" transform="translate(277.25 500) scale(0.72 1) translate(-277.25 -500)">8</text><text x="318.75" y="500" font-size="8.4" font-weight="bold" text-anchor="middle" fill="#222" stroke="#222" stroke-width="0.22" transform="translate(318.75 500) scale(0.72 1) translate(-318.75 -500)">10</text><text x="360.25" y="500" font-size="8.4" font-weight="bold" text-anchor="middle" fill="#222" stroke="#222" stroke-width="0.22" transform="translate(360.25 500) scale(0.72 1) translate(-360.25 -500)">10</text><text x="401.75" y="500" font-size="8.4" font-weight="bold" text-anchor="middle" fill="#222" stroke="#222" stroke-width="0.22" transform="translate(401.75 500) scale(0.72 1) translate(-401.75 -500)">12</text><text x="443.25" y="500" font-size="8.4" font-weight="bold" text-anchor="middle" fill="#222" stroke="#222" stroke-width="0.22" transform="translate(443.25 500) scale(0.72 1) translate(-443.25 -500)">12</text><text x="485.0" y="500" font-size="8.4" font-weight="bold" text-anchor="middle" fill="#222" stroke="#222" stroke-width="0.22" transform="translate(485.0 500) scale(0.72 1) translate(-485.0 -500)">12</text><text x="527.0" y="500" font-size="8.4" font-weight="bold" text-anchor="middle" fill="#222" stroke="#222" stroke-width="0.22" transform="translate(527.0 500) scale(0.72 1) translate(-527.0 -500)">22</text><text x="568.75" y="500" font-size="8.4" font-weight="bold" text-anchor="middle" fill="#222" stroke="#222" stroke-width="0.22" transform="translate(568.75 500) scale(0.72 1) translate(-568.75 -500)">22</text><text x="14.4" y="514" font-size="8" font-weight="bold" text-anchor="start" fill="#222" stroke="#222" stroke-width="0.08" transform="translate(14.4 514) scale(0.88 1) translate(-14.4 -514)">а-допустимое угловое смещение</text><text x="14.4" y="523.8" font-size="8" font-weight="bold" text-anchor="start" fill="#222" stroke="#222" stroke-width="0.08" transform="translate(14.4 523.8) scale(0.88 1) translate(-14.4 -523.8)">(изгиб), угловых градусов</text><text x="360.4" y="523.4" font-size="10.4" font-weight="bold" text-anchor="middle" fill="#222" stroke="#222" stroke-width="0.12" transform="translate(360.4 523.4) scale(0.72 1) translate(-360.4 -523.4)">15°</text><text x="14.4" y="536" font-size="8" font-weight="bold" text-anchor="start" fill="#222" stroke="#222" stroke-width="0.08">D1-межосевое расстояние</text><text x="14.4" y="544.3" font-size="8" font-weight="bold" text-anchor="start" fill="#222" stroke="#222" stroke-width="0.08">присоединительных</text><text x="14.4" y="552.7" font-size="8" font-weight="bold" text-anchor="start" fill="#222" stroke="#222" stroke-width="0.08">отверстий, мм</text><text x="152.0" y="548.1" font-size="8.9" font-weight="bold" text-anchor="middle" fill="#222" stroke="#222" stroke-width="0.22" transform="translate(152.0 548.1) scale(0.74 1) translate(-152.0 -548.1)">85</text><text x="193.75" y="548.1" font-size="8.9" font-weight="bold" text-anchor="middle" fill="#222" stroke="#222" stroke-width="0.22" transform="translate(193.75 548.1) scale(0.74 1) translate(-193.75 -548.1)">100</text><text x="235.75" y="548.1" font-size="8.9" font-weight="bold" text-anchor="middle" fill="#222" stroke="#222" stroke-width="0.22" transform="translate(235.75 548.1) scale(0.74 1) translate(-235.75 -548.1)">110</text><text x="277.25" y="548.1" font-size="8.9" font-weight="bold" text-anchor="middle" fill="#222" stroke="#222" stroke-width="0.22" transform="translate(277.25 548.1) scale(0.74 1) translate(-277.25 -548.1)">125</text><text x="318.75" y="548.1" font-size="8.9" font-weight="bold" text-anchor="middle" fill="#222" stroke="#222" stroke-width="0.22" transform="translate(318.75 548.1) scale(0.74 1) translate(-318.75 -548.1)">145</text><text x="360.25" y="548.1" font-size="8.9" font-weight="bold" text-anchor="middle" fill="#222" stroke="#222" stroke-width="0.22" transform="translate(360.25 548.1) scale(0.74 1) translate(-360.25 -548.1)">160</text><text x="401.75" y="548.1" font-size="8.9" font-weight="bold" text-anchor="middle" fill="#222" stroke="#222" stroke-width="0.22" transform="translate(401.75 548.1) scale(0.74 1) translate(-401.75 -548.1)">180</text><text x="443.25" y="548.1" font-size="8.9" font-weight="bold" text-anchor="middle" fill="#222" stroke="#222" stroke-width="0.22" transform="translate(443.25 548.1) scale(0.74 1) translate(-443.25 -548.1)">210</text><text x="485.0" y="548.1" font-size="8.9" font-weight="bold" text-anchor="middle" fill="#222" stroke="#222" stroke-width="0.22" transform="translate(485.0 548.1) scale(0.74 1) translate(-485.0 -548.1)">240</text><text x="527.0" y="548.1" font-size="8.9" font-weight="bold" text-anchor="middle" fill="#222" stroke="#222" stroke-width="0.22" transform="translate(527.0 548.1) scale(0.74 1) translate(-527.0 -548.1)">295</text><text x="568.75" y="548.1" font-size="8.9" font-weight="bold" text-anchor="middle" fill="#222" stroke="#222" stroke-width="0.22" transform="translate(568.75 548.1) scale(0.74 1) translate(-568.75 -548.1)">350</text><text x="14.4" y="567.7" font-size="8" font-weight="bold" text-anchor="start" fill="#222" stroke="#222" stroke-width="0.08" transform="translate(14.4 567.7) scale(0.92 1) translate(-14.4 -567.7)">d-диаметр присоединительных</text><text x="14.4" y="576.7" font-size="8" font-weight="bold" text-anchor="start" fill="#222" stroke="#222" stroke-width="0.08">отверстий, мм</text><text x="152.0" y="576.5" font-size="9.1" font-weight="bold" text-anchor="middle" fill="#222" stroke="#222" stroke-width="0.22" transform="translate(152.0 576.5) scale(0.7 1) translate(-152.0 -576.5)">16</text><text x="318.25" y="575.3" font-size="9.1" font-weight="bold" text-anchor="middle" fill="#222" stroke="#222" stroke-width="0.22" transform="translate(318.25 575.3) scale(0.7 1) translate(-318.25 -575.3)">18</text><text x="485.0" y="575.5" font-size="9.1" font-weight="bold" text-anchor="middle" fill="#222" stroke="#222" stroke-width="0.22" transform="translate(485.0 575.5) scale(0.7 1) translate(-485.0 -575.5)">22</text><text x="527.0" y="575.5" font-size="9.1" font-weight="bold" text-anchor="middle" fill="#222" stroke="#222" stroke-width="0.22" transform="translate(527.0 575.5) scale(0.7 1) translate(-527.0 -575.5)">22</text><text x="568.75" y="575.5" font-size="9.1" font-weight="bold" text-anchor="middle" fill="#222" stroke="#222" stroke-width="0.22" transform="translate(568.75 575.5) scale(0.7 1) translate(-568.75 -575.5)">22</text><text x="14.4" y="590" font-size="8" font-weight="bold" text-anchor="start" fill="#222" stroke="#222" stroke-width="0.08">Вес, кг</text><text x="152.0" y="592.6" font-size="8.9" font-weight="bold" text-anchor="middle" fill="#222" stroke="#222" stroke-width="0.22" transform="translate(152.0 592.6) scale(0.72 1) translate(-152.0 -592.6)">2</text><text x="193.75" y="592.6" font-size="8.9" font-weight="bold" text-anchor="middle" fill="#222" stroke="#222" stroke-width="0.22" transform="translate(193.75 592.6) scale(0.72 1) translate(-193.75 -592.6)">3</text><text x="235.75" y="592.6" font-size="8.9" font-weight="bold" text-anchor="middle" fill="#222" stroke="#222" stroke-width="0.22" transform="translate(235.75 592.6) scale(0.72 1) translate(-235.75 -592.6)">4,5</text><text x="277.25" y="592.6" font-size="8.9" font-weight="bold" text-anchor="middle" fill="#222" stroke="#222" stroke-width="0.22" transform="translate(277.25 592.6) scale(0.72 1) translate(-277.25 -592.6)">5</text><text x="318.75" y="592.6" font-size="8.9" font-weight="bold" text-anchor="middle" fill="#222" stroke="#222" stroke-width="0.22" transform="translate(318.75 592.6) scale(0.72 1) translate(-318.75 -592.6)">6</text><text x="360.25" y="592.6" font-size="8.9" font-weight="bold" text-anchor="middle" fill="#222" stroke="#222" stroke-width="0.22" transform="translate(360.25 592.6) scale(0.72 1) translate(-360.25 -592.6)">7,5</text><text x="401.75" y="592.6" font-size="8.9" font-weight="bold" text-anchor="middle" fill="#222" stroke="#222" stroke-width="0.22" transform="translate(401.75 592.6) scale(0.72 1) translate(-401.75 -592.6)">9</text><text x="443.25" y="592.6" font-size="8.9" font-weight="bold" text-anchor="middle" fill="#222" stroke="#222" stroke-width="0.22" transform="translate(443.25 592.6) scale(0.72 1) translate(-443.25 -592.6)">12</text><text x="485.0" y="592.6" font-size="8.9" font-weight="bold" text-anchor="middle" fill="#222" stroke="#222" stroke-width="0.22" transform="translate(485.0 592.6) scale(0.72 1) translate(-485.0 -592.6)">15</text><text x="527.0" y="592.6" font-size="8.9" font-weight="bold" text-anchor="middle" fill="#222" stroke="#222" stroke-width="0.22" transform="translate(527.0 592.6) scale(0.72 1) translate(-527.0 -592.6)">20</text><text x="568.75" y="592.6" font-size="8.9" font-weight="bold" text-anchor="middle" fill="#222" stroke="#222" stroke-width="0.22" transform="translate(568.75 592.6) scale(0.72 1) translate(-568.75 -592.6)">25</text>
</svg>
</body></html>
